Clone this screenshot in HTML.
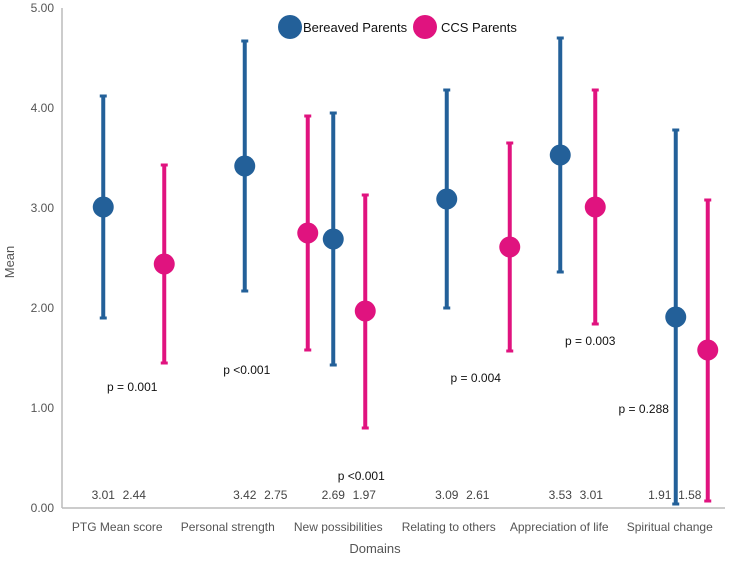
<!DOCTYPE html>
<html><head><meta charset="utf-8"><style>
body{margin:0;background:#fff;font-family:"Liberation Sans",sans-serif;}
svg text{font-family:"Liberation Sans",sans-serif;}
</style></head><body>
<svg id="chart" width="750" height="559" xmlns="http://www.w3.org/2000/svg">
<g id="axes"></g><g id="marks"></g>
<g>
<circle cx="290" cy="27" r="12" fill="#236099"/>
<text x="303" y="32" font-size="13" fill="#111">Bereaved Parents</text>
<circle cx="425" cy="27" r="12" fill="#e0137f"/>
<text x="441" y="32" font-size="13" fill="#111">CCS Parents</text>
</g>
<text x="375" y="553" font-size="13" fill="#555" text-anchor="middle">Domains</text>
<text x="14" y="262" font-size="13" fill="#555" text-anchor="middle" transform="rotate(-90 14 262)">Mean</text>
</svg>
<script>
const categories=["PTG Mean score","Personal strength","New possibilities","Relating to others","Appreciation of life","Spiritual change"];
const bereavedMean=[3.01,3.42,2.69,3.09,3.53,1.91];
const bereavedLow=[1.90,2.17,1.43,2.00,2.36,0.04];
const bereavedHigh=[4.12,4.67,3.95,4.18,4.70,3.78];
const ccsMean=[2.44,2.75,1.97,2.61,3.01,1.58];
const ccsLow=[1.45,1.58,0.80,1.57,1.84,0.07];
const ccsHigh=[3.43,3.92,3.13,3.65,4.18,3.08];
const pLabels=["p = 0.001","p  <0.001","p  <0.001","p = 0.004","p = 0.003","p = 0.288"];
const pY=[1.21,1.38,0.32,1.30,1.67,0.99];
const yTicks=[0,1,2,3,4,5];
const bOff=[-14,17,-5,-2,1,6];
const cOff=[47,80,27,61,36,38];
const pOff=[15,19,23,27,31,-26];
const labBOff=[0,0,0,0,0,-16];
const labOff=[31,31,31,31,31,14];
const X0=62,X1=725,Y0=508,PU=100;
const y=v=>Y0-v*PU;
const xc=i=>X0+(i+0.5)*(X1-X0)/categories.length;
const NS="http://www.w3.org/2000/svg";
const axes=document.getElementById('axes'),marks=document.getElementById('marks');
function mk(t,a,p){const e=document.createElementNS(NS,t);for(const k in a)e.setAttribute(k,a[k]);p.appendChild(e);return e;}
let l=mk('line',{x1:X0,y1:y(5),x2:X0,y2:Y0,stroke:'#bbb','stroke-width':1.5},axes);


l=mk('line',{x1:X0,y1:Y0,x2:X1,y2:Y0,stroke:'#bbb','stroke-width':1.5},axes);


yTicks.forEach(v=>{const t=mk('text',{x:X0-8,y:y(v)+4,'font-size':12,fill:'#555','text-anchor':'end'},axes);t.textContent=v.toFixed(2);

});
categories.forEach((c,i)=>{const t=mk('text',{x:xc(i),y:531,'font-size':12,fill:'#555','text-anchor':'middle'},axes);t.textContent=c;

});
function series(mean,lo,hi,off,col,name,isCcs){
 categories.forEach((c,i)=>{const x=xc(i)+off[i];
  const g=mk('g',{},marks);
  
  
  mk('line',{x1:x,y1:y(lo[i]),x2:x,y2:y(hi[i]),stroke:col,'stroke-width':4},g);
  mk('line',{x1:x-3.5,y1:y(lo[i]),x2:x+3.5,y2:y(lo[i]),stroke:col,'stroke-width':3},g);
  mk('line',{x1:x-3.5,y1:y(hi[i]),x2:x+3.5,y2:y(hi[i]),stroke:col,'stroke-width':3},g);
  mk('circle',{cx:x,cy:y(mean[i]),r:10.5,fill:col},g);
  const lx=xc(i)+bOff[i]+(isCcs?labOff[i]:labBOff[i]);
  const t=mk('text',{x:lx,y:499,'font-size':12,fill:'#444','text-anchor':'middle'},marks);t.textContent=mean[i].toFixed(2);
  
  
 });
}
series(bereavedMean,bereavedLow,bereavedHigh,bOff,'#236099','bereaved',false);
series(ccsMean,ccsLow,ccsHigh,cOff,'#e0137f','ccs',true);
pLabels.forEach((p,i)=>{const t=mk('text',{x:xc(i)+pOff[i],y:y(pY[i])+4,'font-size':12,fill:'#111','text-anchor':'middle'},marks);t.textContent=p;

});
</script>
</body></html>
